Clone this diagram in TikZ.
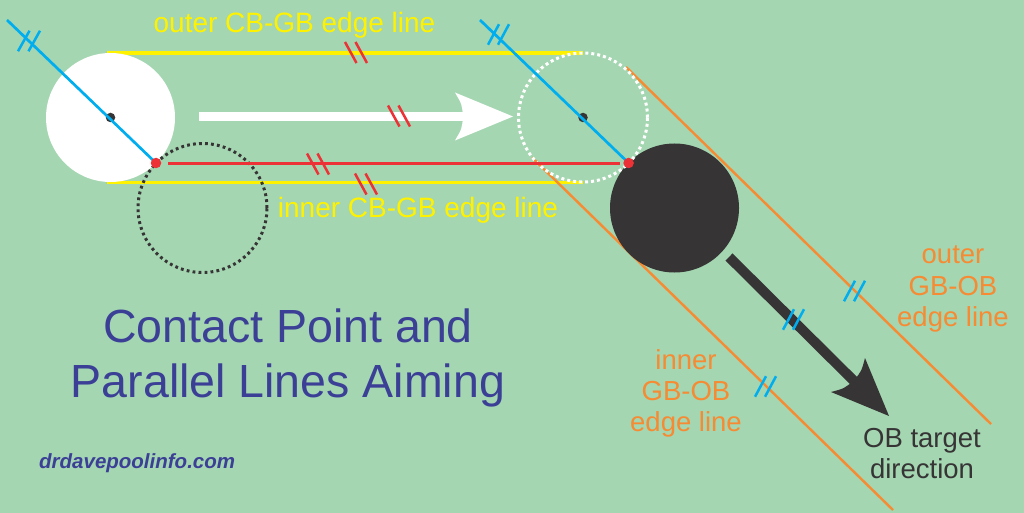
\documentclass[tikz,border=0pt]{standalone}
\usepackage{fontspec}
\setmainfont{Liberation Sans}
\definecolor{bg}{RGB}{164,214,177}
\definecolor{cyel}{RGB}{255,242,0}
\definecolor{cred}{RGB}{237,50,55}
\definecolor{cblue}{RGB}{0,174,239}
\definecolor{corange}{RGB}{246,139,51}
\definecolor{ctitle}{RGB}{59,63,150}
\definecolor{cdark}{RGB}{54,52,53}
\newcommand\twomarks[6]{%
  \foreach \s in {-0.5,0.5}{\draw[#1] ({#2+\s*#6-(#4)},{#3-(#5)}) -- ({#2+\s*#6+(#4)},{#3+(#5)});}}
\begin{document}
\begin{tikzpicture}[x=1pt,y=-1pt,
  yline/.style={draw=cyel,line width=3.4pt},
  oline/.style={draw=corange,line width=2.4pt},
  bline/.style={draw=cblue,line width=2.7pt},
  redmark/.style={draw=cred,line width=2.5pt},
  bluemark/.style={draw=cblue,line width=2.5pt},
  ball/.style={circle,inner sep=0pt,minimum size=129pt},
  cdot/.style={circle,fill=cdark,inner sep=0pt,minimum size=9.5pt},
  rdot/.style={circle,fill=cred,inner sep=0pt,minimum size=10.5pt},
  ytext/.style={text=cyel,inner sep=0pt,anchor=base,font=\fontsize{28}{30}\selectfont},
  otext/.style={text=corange,inner sep=0pt,anchor=base,font=\fontsize{27.5}{30}\selectfont},
  dtext/.style={text=cdark,inner sep=0pt,anchor=base,font=\fontsize{27.5}{30}\selectfont},
  ttext/.style={text=ctitle,inner sep=0pt,anchor=base,font=\fontsize{46.5}{50}\selectfont}]
\useasboundingbox[fill=bg] (0,0) rectangle (1024,513);

% key points
\coordinate (CBc) at (110.5,117.5);
\coordinate (GBc) at (583,117.5);
\coordinate (OBc) at (674.5,208);
\coordinate (IMc) at (202.5,208);
\coordinate (cp1) at (156,163);
\coordinate (cp2) at (628.6,163);

% yellow edge lines
\coordinate (yo1) at (107,53); \coordinate (yo2) at (583,53);
\coordinate (yi1) at (107,182.5); \coordinate (yi2) at (583,182.5);
\draw[yline] (yo1) -- (yo2);
\draw[yline] (yi1) -- (yi2);

% cue ball
\node[ball,fill=white] (CB) at (CBc) {};

% orange edge lines
\coordinate (oo1) at (626,67); \coordinate (oo2) at (991,424);
\coordinate (oi1) at (532,157.5); \coordinate (oi2) at (893,510);
\draw[oline] (oo1) -- (oo2);
\draw[oline] (oi1) -- (oi2);

% object ball
\node[ball,fill=cdark] (OB) at (OBc) {};

% ghost ball (white dotted) and imaginary ball (dark dotted)
\node[ball,draw=white,line width=3pt,dash pattern=on 3pt off 3pt] (GB) at (GBc) {};
\node[ball,draw=cdark,line width=3pt,dash pattern=on 2.8pt off 3.2pt] (IM) at (IMc) {};

% red contact line
\coordinate (r1) at (168,163.5); \coordinate (r2) at (620,163.5);
\draw[draw=cred,line width=3.4pt] (r1) -- (r2);

% white aiming arrow
\coordinate (wa1) at (199,116.5); \coordinate (wa2) at (463,116.5);
\draw[white,line width=8.5pt] (wa1) -- (wa2);
\fill[white] (513,116.5) -- (455,92.5) .. controls (462,104.5) .. (463,116.5)
  .. controls (462,128.5) .. (455,140.5) -- cycle;

% black OB target arrow
\coordinate (ba1) at (729,257); \coordinate (ba2) at (856,383);
\draw[cdark,line width=10pt] (ba1) -- (ba2);
\fill[cdark] (889,416) -- (865,358) .. controls (861.4,371.5) .. (853.6,380.6)
  .. controls (844.5,388.4) .. (831,392) -- cycle;

% centre dots and blue lines of centres
\node[cdot] (d1) at (CBc) {};
\node[cdot] (d2) at (GBc) {};
\coordinate (bl1) at (7,20);
\coordinate (bl2) at (480,20);
\draw[bline] (bl1) -- (cp1);
\draw[bline] (bl2) -- (cp2);

% contact point dots
\node[rdot] (p1) at (cp1) {};
\node[rdot] (p2) at (cp2) {};

% parallel marks
\twomarks{redmark}{356}{52.5}{5.75}{10.5}{10.5}
\twomarks{redmark}{399}{116}{5.75}{10.5}{10.5}
\twomarks{redmark}{318}{164}{5.75}{10.5}{10.5}
\twomarks{redmark}{366}{184}{5.75}{10.5}{10.5}
\twomarks{bluemark}{29}{41}{5.75}{-10.25}{10.5}
\twomarks{bluemark}{498.5}{34.5}{5.5}{-10.25}{10}
\twomarks{bluemark}{854.5}{291}{5.5}{-10.25}{10}
\twomarks{bluemark}{793.5}{319.5}{5.5}{-10.25}{10}
\twomarks{bluemark}{765.5}{386.5}{5.5}{-10.25}{10}

% texts
\node[ytext] (t1) at (294.5,33) {outer CB-GB edge line};
\node[ytext] (t2) at (418,217) {inner CB-GB edge line};
\node[otext] (o1) at (953,263) {outer};
\node[otext] (o2) at (953,295) {GB-OB};
\node[otext] (o3) at (953,326) {edge line};
\node[otext] (i1) at (686,369) {inner};
\node[otext] (i2) at (686,400) {GB-OB};
\node[otext] (i3) at (686,431) {edge line};
\node[dtext] (ob1) at (922,447) {OB target};
\node[dtext] (ob2) at (922,478) {direction};
\node[ttext] (h1) at (288,342) {Contact Point and};
\node[ttext] (h2) at (288,397) {Parallel Lines Aiming};
\node[text=ctitle,inner sep=0pt,anchor=base west,font=\fontsize{20.5}{22}\selectfont\bfseries\itshape] (web) at (39,468) {drdavepoolinfo.com};
\end{tikzpicture}
\end{document}
